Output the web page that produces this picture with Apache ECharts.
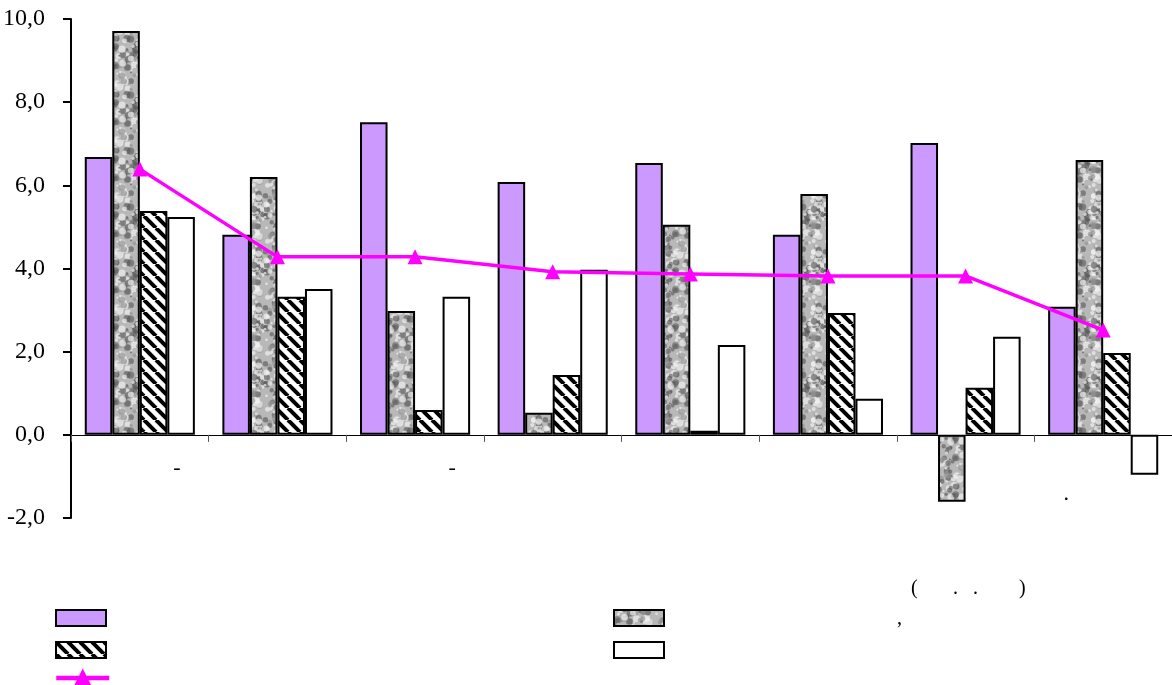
<!DOCTYPE html>
<html><head><meta charset="utf-8">
<script src="https://cdn.jsdelivr.net/npm/echarts@6/dist/echarts.min.js"></script>
<style>html,body{margin:0;padding:0;background:#fff}#c{width:1172px;height:685px}</style>
</head><body><div id="c"></div>
<script>
// ---- data ----
const categories = ['-', '', '-', '', '', '', '', '.'];
const seriesPurple = [6.68, 4.81, 7.52, 6.08, 6.54, 4.81, 7.02, 3.08];
const seriesGray   = [9.71, 6.20, 2.98, 0.53, 5.05, 5.79, -1.61, 6.61];
const seriesHatch  = [5.38, 3.32, 0.60, 1.44, 0.10, 2.93, 1.13, 1.97];
const seriesWhite  = [5.24, 3.51, 3.32, 3.97, 2.16, 0.87, 2.36, -0.96];
const seriesLine   = [6.39, 4.28, 4.28, 3.92, 3.87, 3.82, 3.82, 2.52];
const yTicks = [-2, 0, 2, 4, 6, 8, 10];
const seriesNames = ['s1', 's2', 's3', 's4', 's5'];

// ---- fill patterns (style only) ----
function hash(i){ const x = Math.sin(i * 12.9898 + 78.233) * 43758.5453; return x - Math.floor(x); }
function marble(){
  const S = 56;
  const c = document.createElement('canvas'); c.width = S; c.height = S;
  const g = c.getContext('2d');
  g.fillStyle = '#b8b8b8'; g.fillRect(0, 0, S, S);
  for (let i = 0; i < 170; i++) {
    const x = hash(i) * S, y = hash(i + 500) * S, r = 1 + hash(i + 900) * 2.8;
    const t = hash(i + 1300);
    g.fillStyle = t < 0.45 ? 'rgba(85,85,85,0.6)' : (t < 0.8 ? 'rgba(240,240,240,0.7)' : 'rgba(150,150,150,0.7)');
    for (const dx of [-S, 0, S]) for (const dy of [-S, 0, S]) {
      g.beginPath(); g.arc(x + dx, y + dy, r, 0, Math.PI * 2); g.fill();
    }
  }
  return c;
}
function hatch(){
  const s = 12;
  const c = document.createElement('canvas'); c.width = s; c.height = s;
  const g = c.getContext('2d');
  g.fillStyle = '#fff'; g.fillRect(0, 0, s, s);
  g.strokeStyle = '#000'; g.lineWidth = 4;
  for (const o of [-s, 0, s]) { g.beginPath(); g.moveTo(o, 0); g.lineTo(o + s, s); g.stroke(); }
  return c;
}
const grayFill = { image: marble(), repeat: 'repeat' };
const hatchFill = { image: hatch(), repeat: 'repeat' };

const border = { borderColor: '#000', borderWidth: 2 };
const font = 'Liberation Serif';
const legendBase = { orient: 'vertical', top: 609, height: 90, padding: 0, itemWidth: 50, itemHeight: 16,
  itemGap: 14, formatter: () => '', textStyle: { fontSize: 1 } };
const boxItem = name => ({ name, icon: 'rect', itemStyle: { borderColor: '#000', borderWidth: 2 } });

const chart = echarts.init(document.getElementById('c'), null, { renderer: 'canvas' });
chart.setOption({
  animation: false,
  backgroundColor: '#fff',
  grid: { left: 70, right: 0, top: 19, bottom: 167, containLabel: false },
  legend: [
    Object.assign({}, legendBase, { left: 55,
      data: [ boxItem(seriesNames[0]), boxItem(seriesNames[2]) ] }),
    Object.assign({}, legendBase, { left: 613,
      data: [ boxItem(seriesNames[1]), boxItem(seriesNames[3]) ] }),
    Object.assign({}, legendBase, { left: 54, top: 666, itemWidth: 53, itemHeight: 24,
      data: [ { name: seriesNames[4], lineStyle: { width: 4.5, color: '#ff00ff' } } ] })
  ],
  xAxis: {
    type: 'category', data: categories,
    axisLine: { onZero: true, lineStyle: { color: '#000', width: 1 } },
    axisTick: { show: true, length: 7, lineStyle: { color: '#555' } },
    axisLabel: {
      interval: 0, margin: -61, fontFamily: font, fontSize: 22, color: '#000',
      formatter: (v, i) => v === '' ? '' : (v === '.' ? '{d|' + v + '}' : '{h|' + v + '}'),
      rich: {
        h: { fontFamily: font, fontSize: 22, padding: [0, 0, 0, 74] },
        d: { fontFamily: font, fontSize: 22, padding: [26, 74, 0, 0] }
      }
    },
    splitLine: { show: false }
  },
  yAxis: {
    type: 'value', min: yTicks[0], max: yTicks[yTicks.length - 1], interval: 2,
    axisLine: { show: true, lineStyle: { color: '#000', width: 2 } },
    axisTick: { show: true, length: 8, lineStyle: { color: '#000', width: 2 } },
    axisLabel: { margin: 26, fontFamily: font, fontSize: 24, color: '#000',
      formatter: v => v.toFixed(1).replace('.', ',') },
    splitLine: { show: false }
  },
  series: [
    { name: seriesNames[0], type: 'bar', data: seriesPurple, barGap: '0%', barCategoryGap: '20%',
      itemStyle: Object.assign({ color: '#cc99ff' }, border) },
    { name: seriesNames[1], type: 'bar', data: seriesGray,
      itemStyle: Object.assign({ color: grayFill }, border) },
    { name: seriesNames[2], type: 'bar', data: seriesHatch,
      itemStyle: Object.assign({ color: hatchFill }, border) },
    { name: seriesNames[3], type: 'bar', data: seriesWhite,
      itemStyle: Object.assign({ color: '#ffffff' }, border) },
    { name: seriesNames[4], type: 'line', data: seriesLine, z: 5,
      symbol: 'triangle', symbolSize: 15,
      lineStyle: { color: '#ff00ff', width: 3.5 },
      itemStyle: { color: '#ff00ff' } }
  ],
  graphic: [
    { type: 'text', left: 911, top: 579, style: { text: '(', font: '20px "Liberation Serif"', fill: '#000' } },
    { type: 'text', left: 953, top: 579, style: { text: '.', font: '20px "Liberation Serif"', fill: '#000' } },
    { type: 'text', left: 973, top: 579, style: { text: '.', font: '20px "Liberation Serif"', fill: '#000' } },
    { type: 'text', left: 1019, top: 579, style: { text: ')', font: '20px "Liberation Serif"', fill: '#000' } },
    { type: 'text', left: 897, top: 609, style: { text: ',', font: '20px "Liberation Serif"', fill: '#000' } }
  ]
});
</script></body></html>
